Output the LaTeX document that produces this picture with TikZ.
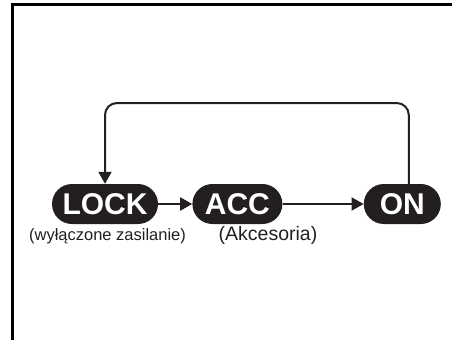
\documentclass[tikz,border=0pt]{standalone}
\usepackage{fontspec}
\setmainfont{Liberation Sans}
\usetikzlibrary{arrows.meta,positioning}
\definecolor{KeyBlack}{RGB}{35,31,32}
\tikzset{
  keypos/.style={fill=KeyBlack,text=white,rounded corners=20pt,minimum height=40pt,inner xsep=0pt,inner ysep=0pt,align=center,font=\fontsize{30}{30}\selectfont\bfseries},
  keyflow/.style={-{Triangle[length=12pt,width=13pt]},line width=2pt,draw=KeyBlack},
  keynote/.style={anchor=base,inner sep=0pt,text=KeyBlack},
  frameline/.style={line width=3pt,draw=black,line join=miter}
}

\begin{document}
\begin{tikzpicture}[x=1pt,y=-1pt]
\useasboundingbox (0,0) rectangle (452,340);
% frame
\draw[frameline] (12,340) -- (12,4) -- (452,4);
% key positions
\node[keypos, minimum width=106pt] (lock) at (105,204) {LOCK};
\node[keypos, minimum width=90pt, right=34pt of lock] (acc) {ACC};
\node[keypos, minimum width=77pt, right=81pt of acc] (on) {ON};
\coordinate (top) at (0,103);
\draw[keyflow] (lock) -- (acc);
\draw[keyflow] (acc) -- (on);
\draw[keyflow, rounded corners=12pt] ([xshift=6.5pt]on.north) |- (top -| lock.north) -- (lock.north);
% notes
\node[keynote, font=\fontsize{16.5}{18}\selectfont] (locknote) at (107.5,240) {(wyłączone zasilanie)};
\node[keynote, font=\fontsize{19.5}{22}\selectfont] (accnote) at (268,240) {(Akcesoria)};
\end{tikzpicture}
\end{document}
